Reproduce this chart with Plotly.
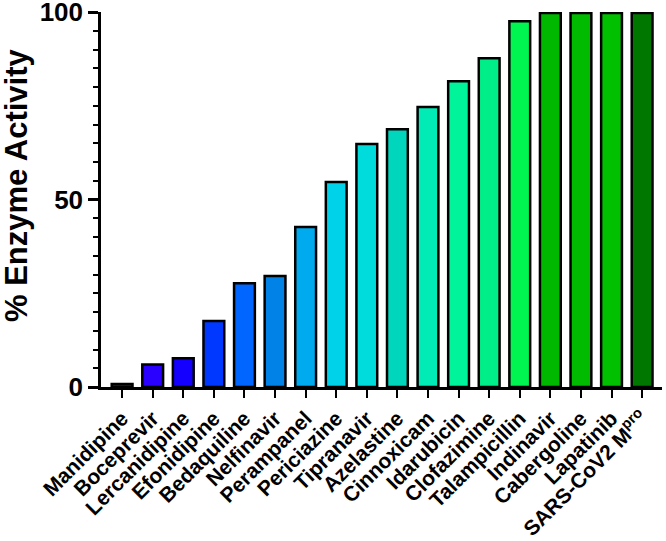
import plotly.graph_objects as go

drugs = ["Manidipine", "Boceprevir", "Lercanidipine", "Efonidipine", "Bedaquiline",
         "Nelfinavir", "Perampanel", "Periciazine", "Tipranavir", "Azelastine",
         "Cinnoxicam", "Idarubicin", "Clofazimine", "Talampicillin", "Indinavir",
         "Cabergoline", "Lapatinib", "SARS-CoV2 M<sup>pro</sup>"]
activity = [0.8, 6, 7.7, 17.6, 27.7, 29.6, 42.7, 54.7, 64.8, 68.8,
            74.7, 81.6, 87.7, 97.6, 99.8, 99.8, 99.8, 99.8]
bar_colors = ["#4000ff", "#2a00ff", "#1400ff", "#0038ff", "#0066ff",
              "#0082e6", "#00aaee", "#00d2ea", "#00dcdc", "#00d6bc",
              "#00ebb6", "#00f59a", "#00ee88", "#00f550", "#00b800",
              "#00bb00", "#00c000", "#007800"]
y_ticks = [0, 50, 100]
y_title = "% Enzyme Activity"

font_family = "Liberation Sans, Arial, sans-serif"

W, H = 666, 541
L, R, T, B = 101, 4, 12, 154

fig = go.Figure(go.Bar(
    x=drugs, y=activity,
    marker=dict(color=bar_colors, line=dict(color="black", width=2.5)),
    width=0.68,
    cliponaxis=False,
))

plot_w = W - L - R
plot_h = H - T - B

fig.update_layout(
    width=W, height=H,
    margin=dict(l=L, r=R, t=T, b=B),
    paper_bgcolor="white", plot_bgcolor="white",
    showlegend=False,
    font=dict(family=font_family, color="black", weight="bold"),
    annotations=[dict(
        text=y_title, textangle=-90, showarrow=False,
        xref="paper", yref="paper",
        x=(16 - L) / plot_w, y=(H - B - 185) / plot_h,
        xanchor="center", yanchor="middle",
        font=dict(family=font_family, size=31, color="black", weight="bold"),
    )],
)

fig.update_xaxes(
    range=[-0.69, 17.65],
    automargin=False,
    showline=True, linecolor="black", linewidth=2.5,
    ticks="outside", ticklen=8, tickwidth=2, tickcolor="black",
    tickangle=-45,
    tickfont=dict(family=font_family, size=21, color="black", weight="bold"),
    ticklabeloverflow="allow",
    showgrid=False, zeroline=False,
)

fig.update_yaxes(
    range=[0, 100.05],
    automargin=False,
    tickmode="array", tickvals=y_ticks, ticktext=[str(v) for v in y_ticks],
    showline=True, linecolor="black", linewidth=2.5,
    ticks="outside", ticklen=10, tickwidth=2.5, tickcolor="black",
    minor=dict(dtick=5, ticks="outside", ticklen=5, tickwidth=2, tickcolor="black", showgrid=False),
    tickfont=dict(family=font_family, size=26, color="black", weight="bold"),
    ticklabeloverflow="allow",
    showgrid=False, zeroline=False,
)

fig.write_html("out.html", config={"displayModeBar": False},
               post_script="document.body.style.margin='0';document.body.style.overflow='hidden';")
